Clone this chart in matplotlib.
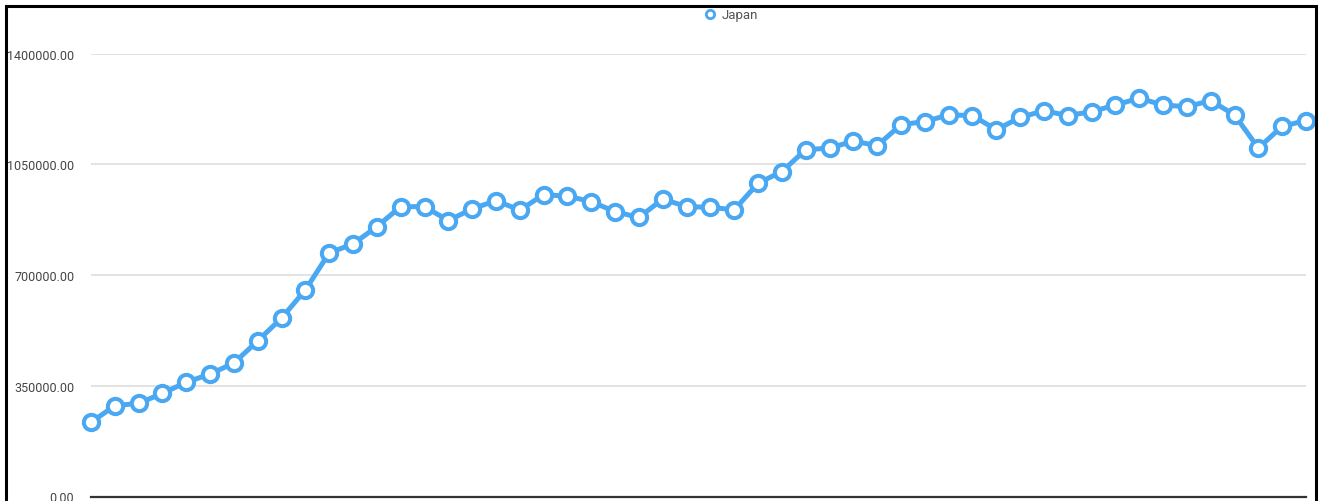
import matplotlib.pyplot as plt
from matplotlib.lines import Line2D
from matplotlib.patches import Rectangle
from matplotlib.ticker import FuncFormatter

# Japan series, one value per year
years = list(range(1971, 2023))
values = [
    234500, 287000, 294500, 326000, 361000, 387000, 422000, 492000,
    564000, 653000, 770000, 798000, 853000, 916000, 916000, 872000,
    909000, 935000, 905000, 954000, 949000, 932000, 900000, 882000,
    940000, 916000, 914000, 906000, 990000, 1027000, 1096000, 1101000,
    1123000, 1109000, 1175000, 1185000, 1206000, 1204000, 1159000, 1198000,
    1219000, 1204000, 1216000, 1237000, 1259000, 1237000, 1232000, 1251000,
    1206000, 1101000, 1170000, 1188000,
]
y_ticks = [0, 350000, 700000, 1050000, 1400000]
series_name = "Japan"

blue = "#4aa8f2"

plt.rcParams['font.family'] = ['Roboto', 'DejaVu Sans']

fig = plt.figure(figsize=(13.19, 5.02), dpi=100)
W, H = 1319, 502
ax = fig.add_axes([91 / W, 4.5 / H, (1306 - 91) / W, (497.5 - 54.5) / H])

ax.plot(years, values, color=blue, linewidth=3.6, marker='o', markersize=11,
        markerfacecolor='white', markeredgecolor=blue, markeredgewidth=2.9,
        clip_on=False, zorder=3)

ax.set_xlim(years[0], years[-1])
ax.set_ylim(0, 1400000)
ax.set_yticks(y_ticks)
ax.yaxis.set_major_formatter(FuncFormatter(lambda v, p: f"{v:.2f}"))
ax.set_xticks([])
ax.tick_params(axis='y', length=0, pad=12, labelsize=9, labelcolor='#444444')
ax.grid(axis='y', color='#e3e3e3', linewidth=1.4)
ax.set_axisbelow(True)
for s in ['top', 'right', 'left']:
    ax.spines[s].set_visible(False)
ax.spines['bottom'].set_color('#333333')
ax.spines['bottom'].set_linewidth(1.6)

# legend
handle = Line2D([], [], linestyle='none', marker='o', markersize=6,
                markerfacecolor='white', markeredgecolor=blue, markeredgewidth=2)
fig.legend([handle], [series_name], loc='center', bbox_to_anchor=(731 / W, 1 - 16 / H),
           frameon=False, fontsize=9.5, labelcolor='#555555', handlelength=0.8,
           handletextpad=0.5, borderpad=0)

# black frame round the picture
fig.patches.append(Rectangle((5.5 / W, -0.1), (1316 - 5.5) / W, 1.1 - 6.5 / H,
                             transform=fig.transFigure, fill=False,
                             edgecolor='black', linewidth=2.2))

fig.savefig("out.png", dpi=100)
